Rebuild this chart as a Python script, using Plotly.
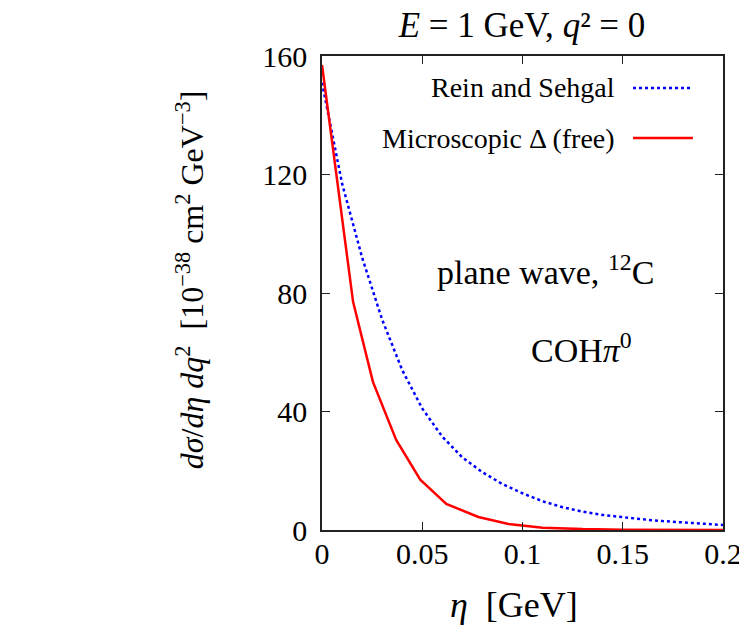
import plotly.graph_objects as go

# values
eta_rs = [0, 0.01, 0.02, 0.03, 0.04, 0.05, 0.06, 0.07, 0.08, 0.09, 0.10,
          0.11, 0.12, 0.13, 0.14, 0.15, 0.16, 0.17, 0.18, 0.19, 0.20]
xsec_rs = [151, 117, 92, 71, 54, 41, 31.5, 24.5, 19.5, 15.5, 12.4,
           9.7, 7.7, 6.2, 5.1, 4.3, 3.6, 3.0, 2.5, 2.1, 1.7]

eta_micro = [0, 0.0155, 0.0254, 0.037, 0.049, 0.062, 0.078, 0.093, 0.11, 0.13, 0.15, 0.175, 0.2]
xsec_micro = [157, 77, 50, 30.4, 17, 8.8, 4.4, 2.0, 0.8, 0.3, 0.1, 0.03, 0]

x_ticks = [0, 0.05, 0.1, 0.15, 0.2]
x_tick_labels = ["0", "0.05", "0.1", "0.15", "0.2"]
y_ticks = [0, 40, 80, 120, 160]

SERIF = "Liberation Serif, DejaVu Serif, serif"
BLUE = "#0000ff"
RED = "#ff0000"

fig = go.Figure()
fig.add_scatter(x=eta_rs, y=xsec_rs, mode="lines", name="Rein and Sehgal",
                line=dict(color=BLUE, width=2.5, dash="dot"))
fig.add_scatter(x=eta_micro, y=xsec_micro, mode="lines", name="Microscopic Δ (free)",
                line=dict(color=RED, width=2.5))

axis_style = dict(
    showline=True, linecolor="#222", linewidth=1.5, mirror="ticks",
    ticks="inside", ticklen=8, tickwidth=1.2, tickcolor="#222",
    showgrid=False, zeroline=False, automargin=False,
    tickfont=dict(family=SERIF, size=30, color="black"),
)

fig.update_xaxes(range=[0, 0.2], tickvals=x_ticks, ticktext=x_tick_labels,
                 ticklabelstandoff=-4, **axis_style)
fig.update_yaxes(range=[0, 160], tickvals=y_ticks, ticklabelstandoff=7, **axis_style)


def note(text, x, y, size, **kw):
    fig.add_annotation(x=x, y=y, xref="paper", yref="paper", text=text,
                       showarrow=False, xanchor=kw.pop("xanchor", "center"),
                       yanchor="middle", font=dict(family=SERIF, size=size, color="black"),
                       **kw)


# gnuplot-style key: text right-aligned, sample line to its right
key_rows = [("Rein and Sehgal", BLUE, "dot", 0.9325),
            ("Microscopic Δ (free)", RED, "solid", 0.827)]
for label, color, dash, ky in key_rows:
    note(label, 0.7357, ky, 28, xanchor="right")
    fig.add_shape(type="line", xref="paper", yref="paper", x0=0.7756, x1=0.925,
                  y0=ky, y1=ky, line=dict(color=color, width=2.5, dash=dash))

note("plane wave, <sup>12</sup>C", 0.5586, 0.5485, 34)
note("COH<i>π</i><sup>0</sup>", 0.646, 0.384, 34)
note("<i>η</i>  [GeV]", 0.479, -0.158, 36)
note("<i>dσ</i>/<i>dη dq</i><sup>2</sup>  [10<sup>−38</sup> cm<sup>2</sup> GeV<sup>−3</sup>]",
     -0.329, 0.527, 32, textangle=-90)

# the page body adds an 8px offset, so the figure is 8px smaller than the window
fig.update_layout(
    width=739, height=624,
    margin=dict(l=314, r=24, t=48, b=102),
    paper_bgcolor="white", plot_bgcolor="white",
    showlegend=False,
    title=dict(text="<i>E</i>&nbsp;=&nbsp;1 GeV, <i>q</i>²&nbsp;=&nbsp;0",
               x=0.4988, xref="paper", y=0.973, yref="container",
               xanchor="center", yanchor="middle",
               font=dict(family=SERIF, size=35, color="black")),
)

fig.write_html("out.html")
